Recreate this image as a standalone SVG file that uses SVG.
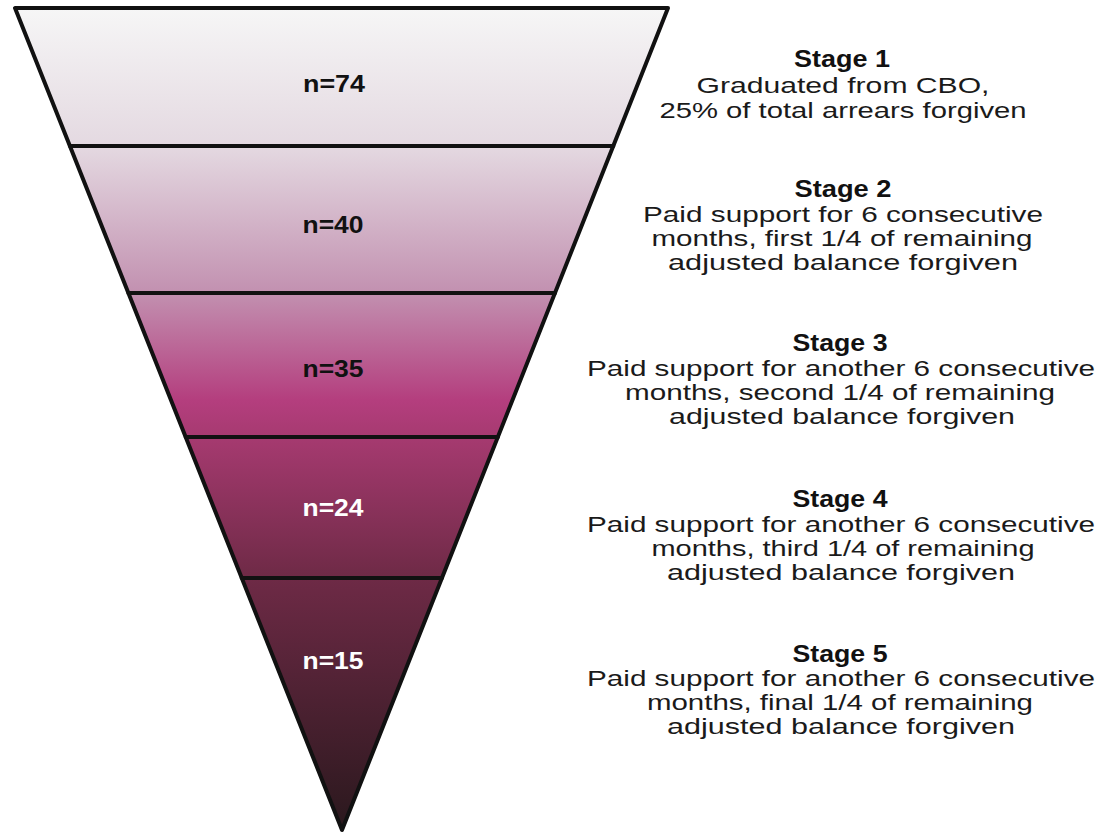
<svg xmlns="http://www.w3.org/2000/svg" width="1108" height="835" viewBox="0 0 1108 835">
<defs>
<linearGradient id="fill" gradientUnits="userSpaceOnUse" x1="0" y1="8" x2="0" y2="830">
<stop offset="0" stop-color="#f6f6f6"/>
<stop offset="0.168" stop-color="#e4d9e1"/>
<stop offset="0.347" stop-color="#c290b0"/>
<stop offset="0.477" stop-color="#b43e7e"/>
<stop offset="0.522" stop-color="#a63a70"/>
<stop offset="0.693" stop-color="#6e2a46"/>
<stop offset="1" stop-color="#2a181d"/>
</linearGradient>
<style>
.band{fill:url(#fill);stroke:none}
.n{font-family:"Liberation Sans",Arial,sans-serif;font-weight:bold;font-size:24px;text-anchor:middle}
.dark{fill:#111}
.light{fill:#ffffff}
.title{font-family:"Liberation Sans",Arial,sans-serif;font-weight:bold;font-size:23px;text-anchor:middle;fill:#111}
.body{font-family:"Liberation Sans",Arial,sans-serif;font-size:22px;text-anchor:middle;fill:#1a1a1a}
.edge{fill:none;stroke:#111;stroke-width:4;stroke-linejoin:round;stroke-linecap:round}
</style>
</defs>
<rect width="1108" height="835" fill="#ffffff"/>
<g id="stage1">
<polygon class="band" points="15,8 668,8 613.3,146 69.9,146"/>
<text class="n dark" x="334" y="92" textLength="62" lengthAdjust="spacingAndGlyphs">n=74</text>
</g>
<g id="stage2">
<polygon class="band" points="69.9,146 613.3,146 555,293 128.4,293"/>
<text class="n dark" x="333" y="233" textLength="61" lengthAdjust="spacingAndGlyphs">n=40</text>
</g>
<g id="stage3">
<polygon class="band" points="128.4,293 555,293 497.9,437 185.7,437"/>
<text class="n dark" x="333" y="377" textLength="61" lengthAdjust="spacingAndGlyphs">n=35</text>
</g>
<g id="stage4">
<polygon class="band" points="185.7,437 497.9,437 441.9,578 241.7,578"/>
<text class="n light" x="333" y="516" textLength="61" lengthAdjust="spacingAndGlyphs">n=24</text>
</g>
<g id="stage5">
<polygon class="band" points="241.7,578 441.9,578 342,830"/>
<text class="n light" x="333" y="669" textLength="61" lengthAdjust="spacingAndGlyphs">n=15</text>
</g>
<g id="connectors">
<polygon class="edge" points="15,8 668,8 342,830"/>
<line class="edge" x1="69.9" y1="146" x2="613.3" y2="146"/>
<line class="edge" x1="128.4" y1="293" x2="555" y2="293"/>
<line class="edge" x1="185.7" y1="437" x2="497.9" y2="437"/>
<line class="edge" x1="241.7" y1="578" x2="441.9" y2="578"/>
</g>
<g id="label1">
<text class="title" x="842" y="67" textLength="96" lengthAdjust="spacingAndGlyphs">Stage 1</text>
<text class="body" x="843" y="93" textLength="293" lengthAdjust="spacingAndGlyphs">Graduated from CBO,</text>
<text class="body" x="843" y="118" textLength="367" lengthAdjust="spacingAndGlyphs">25% of total arrears forgiven</text>
</g>
<g id="label2">
<text class="title" x="843" y="197" textLength="97" lengthAdjust="spacingAndGlyphs">Stage 2</text>
<text class="body" x="843" y="222" textLength="400" lengthAdjust="spacingAndGlyphs">Paid support for 6 consecutive</text>
<text class="body" x="842" y="246" textLength="381" lengthAdjust="spacingAndGlyphs">months, first 1/4 of remaining</text>
<text class="body" x="843" y="270" textLength="350" lengthAdjust="spacingAndGlyphs">adjusted balance forgiven</text>
</g>
<g id="label3">
<text class="title" x="840" y="351" textLength="95" lengthAdjust="spacingAndGlyphs">Stage 3</text>
<text class="body" x="841" y="376" textLength="508" lengthAdjust="spacingAndGlyphs">Paid support for another 6 consecutive</text>
<text class="body" x="840" y="400" textLength="430" lengthAdjust="spacingAndGlyphs">months, second 1/4 of remaining</text>
<text class="body" x="842" y="424" textLength="346" lengthAdjust="spacingAndGlyphs">adjusted balance forgiven</text>
</g>
<g id="label4">
<text class="title" x="840" y="507" textLength="95" lengthAdjust="spacingAndGlyphs">Stage 4</text>
<text class="body" x="841" y="532" textLength="508" lengthAdjust="spacingAndGlyphs">Paid support for another 6 consecutive</text>
<text class="body" x="843" y="556" textLength="383" lengthAdjust="spacingAndGlyphs">months, third 1/4 of remaining</text>
<text class="body" x="841" y="580" textLength="348" lengthAdjust="spacingAndGlyphs">adjusted balance forgiven</text>
</g>
<g id="label5">
<text class="title" x="840" y="662" textLength="95" lengthAdjust="spacingAndGlyphs">Stage 5</text>
<text class="body" x="841" y="686" textLength="508" lengthAdjust="spacingAndGlyphs">Paid support for another 6 consecutive</text>
<text class="body" x="840" y="710" textLength="386" lengthAdjust="spacingAndGlyphs">months, final 1/4 of remaining</text>
<text class="body" x="841" y="734" textLength="348" lengthAdjust="spacingAndGlyphs">adjusted balance forgiven</text>
</g>
</svg>
